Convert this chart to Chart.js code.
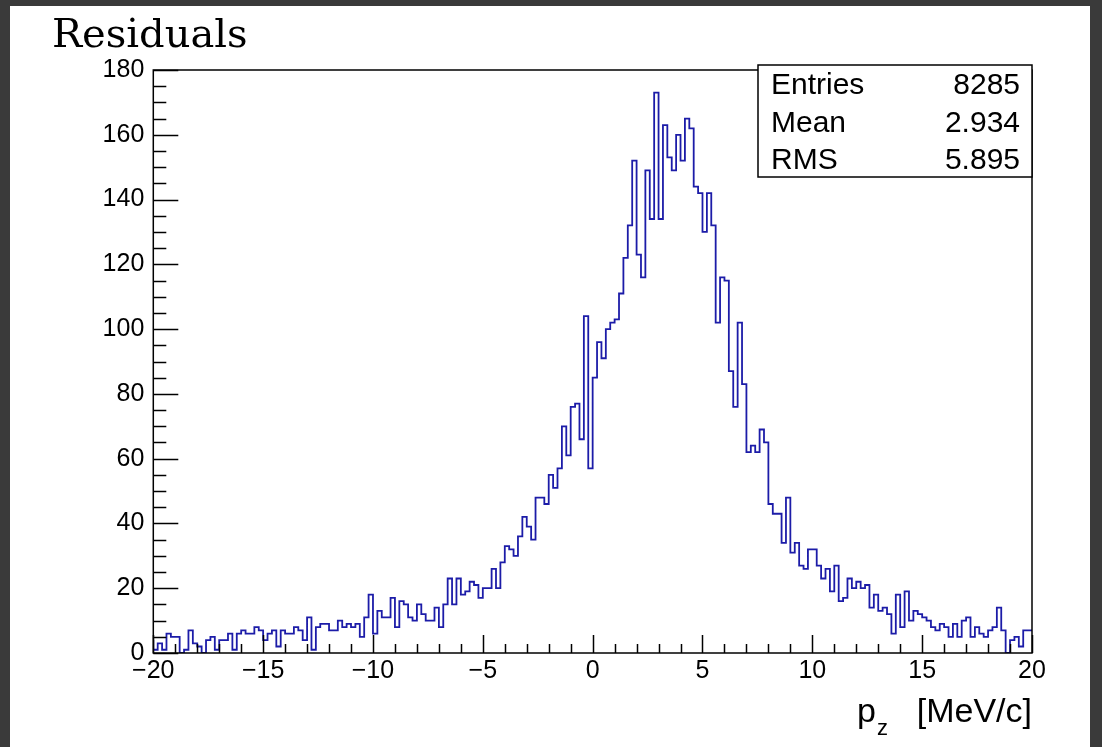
<!DOCTYPE html>
<html>
<head>
<meta charset="utf-8">
<title>Residuals</title>
<script src="https://cdn.jsdelivr.net/npm/chart.js@4.4.1/dist/chart.umd.min.js"></script>
<style>
  html, body { margin: 0; padding: 0; background: #3a3a3a; }
  #panel { position: absolute; left: 10px; top: 6px; width: 1080px; height: 741px; background: #fff; }
</style>
</head>
<body>
<div id="panel"><canvas id="myChart"></canvas></div>
<script>
// histogram binning
var xMin = -20;
var xMax = 20;
var binWidth = 0.2;

// bin contents, left to right
var counts = [
	4, 1, 3, 1, 6, 5, 5, 0, 1, 7, 3, 2, 0, 4, 5, 1, 4, 4, 6, 1, 6, 7, 6, 6, 8, 7,
	4, 6, 7, 2, 7, 6, 6, 8, 7, 4, 11, 1, 8, 9, 9, 7, 7, 10, 8, 9, 8, 9, 5, 11, 18, 6, 13,
	11, 11, 17, 8, 16, 15, 11, 10, 15, 12, 10, 10, 14, 8, 15, 23, 15, 23, 18, 19, 22, 21, 17, 20,
	20, 26, 20, 28, 33, 32, 30, 36, 42, 39, 35, 48, 48, 46, 55, 51, 57, 70, 61, 76, 77, 66,
	104, 57, 85, 96, 91, 100, 102, 103, 111, 122, 132, 152, 123, 116, 149, 134, 173, 134, 163, 153, 149,
	160, 152, 165, 162, 144, 142, 130, 142, 132, 102, 116, 115, 87, 76, 102, 83, 62, 64, 62, 69,
	65, 46, 43, 43, 34, 48, 31, 34, 27, 26, 32, 32, 27, 23, 26, 19, 27, 16, 17, 23, 20, 22, 20,
	21, 14, 18, 13, 14, 12, 6, 18, 8, 19, 10, 13, 12, 11, 10, 8, 7, 9, 8, 5, 9, 5, 10, 11, 5, 8, 6, 5, 7, 8, 14, 7, 0, 4, 5, 2, 7
];

var xTicks = [-20, -15, -10, -5, 0, 5, 10, 15, 20];
var yTicks = [0, 20, 40, 60, 80, 100, 120, 140, 160, 180];

var statLabels = ['Entries', 'Mean', 'RMS'];
var statValues = ['8285', '2.934', '5.895'];

var histTitle = 'Residuals';
var axisVar = 'p';
var axisSub = 'z';
var axisUnit = '[MeV/c]';

// step points on the bin low edges, the last one closes the last bin
var points = counts.map(function (c, i) {
	return { x: xMin + i * binWidth, y: c };
});
points.push({ x: xMax, y: counts[counts.length - 1] });

var sans = "'Liberation Sans', Arial, sans-serif";

// ROOT look: frame, inner ticks, title, stat box, axis title
var rootStyle = {
	id: 'rootStyle',
	afterDatasetsDraw: function (chart) {
		var ctx = chart.ctx;
		var a = chart.chartArea;
		var xs = chart.scales.x;
		var ys = chart.scales.y;
		ctx.save();
		ctx.strokeStyle = '#000';
		ctx.lineWidth = 1.5;
		ctx.strokeRect(a.left, a.top, a.right - a.left, a.bottom - a.top);

		ctx.beginPath();
		for (var v = ys.min; v <= ys.max; v += 5) {
			var py = Math.round(ys.getPixelForValue(v)) + 0.5;
			var len = v % 20 === 0 ? 25 : 13;
			ctx.moveTo(a.left, py);
			ctx.lineTo(a.left + len, py);
		}
		for (var u = xs.min; u <= xs.max; u += 1) {
			var px = Math.round(xs.getPixelForValue(u)) + 0.5;
			var len2 = u % 5 === 0 ? 18 : 9;
			ctx.moveTo(px, a.bottom);
			ctx.lineTo(px, a.bottom - len2);
		}
		ctx.stroke();

		// title
		ctx.fillStyle = '#000';
		ctx.textBaseline = 'alphabetic';
		ctx.textAlign = 'left';
		ctx.font = "40px 'DejaVu Serif', serif";
		ctx.fillText(histTitle, 42, 41);

		// stat box
		var bx = 748, by = 59, bw = 274, bh = 112;
		ctx.fillStyle = '#fff';
		ctx.fillRect(bx, by, bw, bh);
		ctx.strokeRect(bx, by, bw, bh);
		ctx.fillStyle = '#000';
		ctx.font = '30px ' + sans;
		for (var i = 0; i < statLabels.length; i++) {
			var base = by + bh / 6 * (2 * i + 1) + 10.5;
			ctx.textAlign = 'left';
			ctx.fillText(statLabels[i], bx + 13, base);
			ctx.textAlign = 'right';
			ctx.fillText(statValues[i], bx + bw - 12, base);
		}

		// x axis title with subscript
		ctx.textAlign = 'right';
		ctx.font = '34px ' + sans;
		ctx.fillText(axisUnit, a.right, 716);
		ctx.textAlign = 'left';
		ctx.fillText(axisVar, 847, 716);
		ctx.font = '22px ' + sans;
		ctx.fillText(axisSub, 867, 729);
		ctx.restore();
	}
};

var ctx = document.getElementById('myChart').getContext('2d');
var chart = new Chart(ctx, {
	type: 'line',
	data: {
		datasets: [{
			label: histTitle,
			data: points,
			stepped: 'after',
			borderColor: '#1c1ca8',
			borderWidth: 1.8,
			pointRadius: 0,
			fill: false
		}]
	},
	options: {
		responsive: true,
		maintainAspectRatio: false,
		animation: false,
		layout: { padding: { left: 0, top: 64, right: 58, bottom: 0 } },
		plugins: {
			legend: { display: false },
			tooltip: { enabled: false }
		},
		scales: {
			x: {
				type: 'linear',
				min: xMin,
				max: xMax,
				grid: { display: false, drawTicks: false },
				border: { display: false },
				afterBuildTicks: function (s) {
					s.ticks = xTicks.map(function (v) { return { value: v }; });
				},
				afterFit: function (s) { s.height = 94; },
				ticks: {
					autoSkip: false,
					maxRotation: 0,
					padding: 3,
					color: '#000',
					font: { family: sans, size: 25 },
					callback: function (v) { return String(v).replace('-', '\u2212'); }
				}
			},
			y: {
				min: 0,
				max: 180,
				grid: { display: false, drawTicks: false },
				border: { display: false },
				afterBuildTicks: function (s) {
					s.ticks = yTicks.map(function (v) { return { value: v }; });
				},
				afterFit: function (s) { s.width = 143.3; },
				ticks: {
					padding: 9,
					color: '#000',
					font: { family: sans, size: 25 }
				}
			}
		}
	},
	plugins: [rootStyle]
});
</script>
</body>
</html>
